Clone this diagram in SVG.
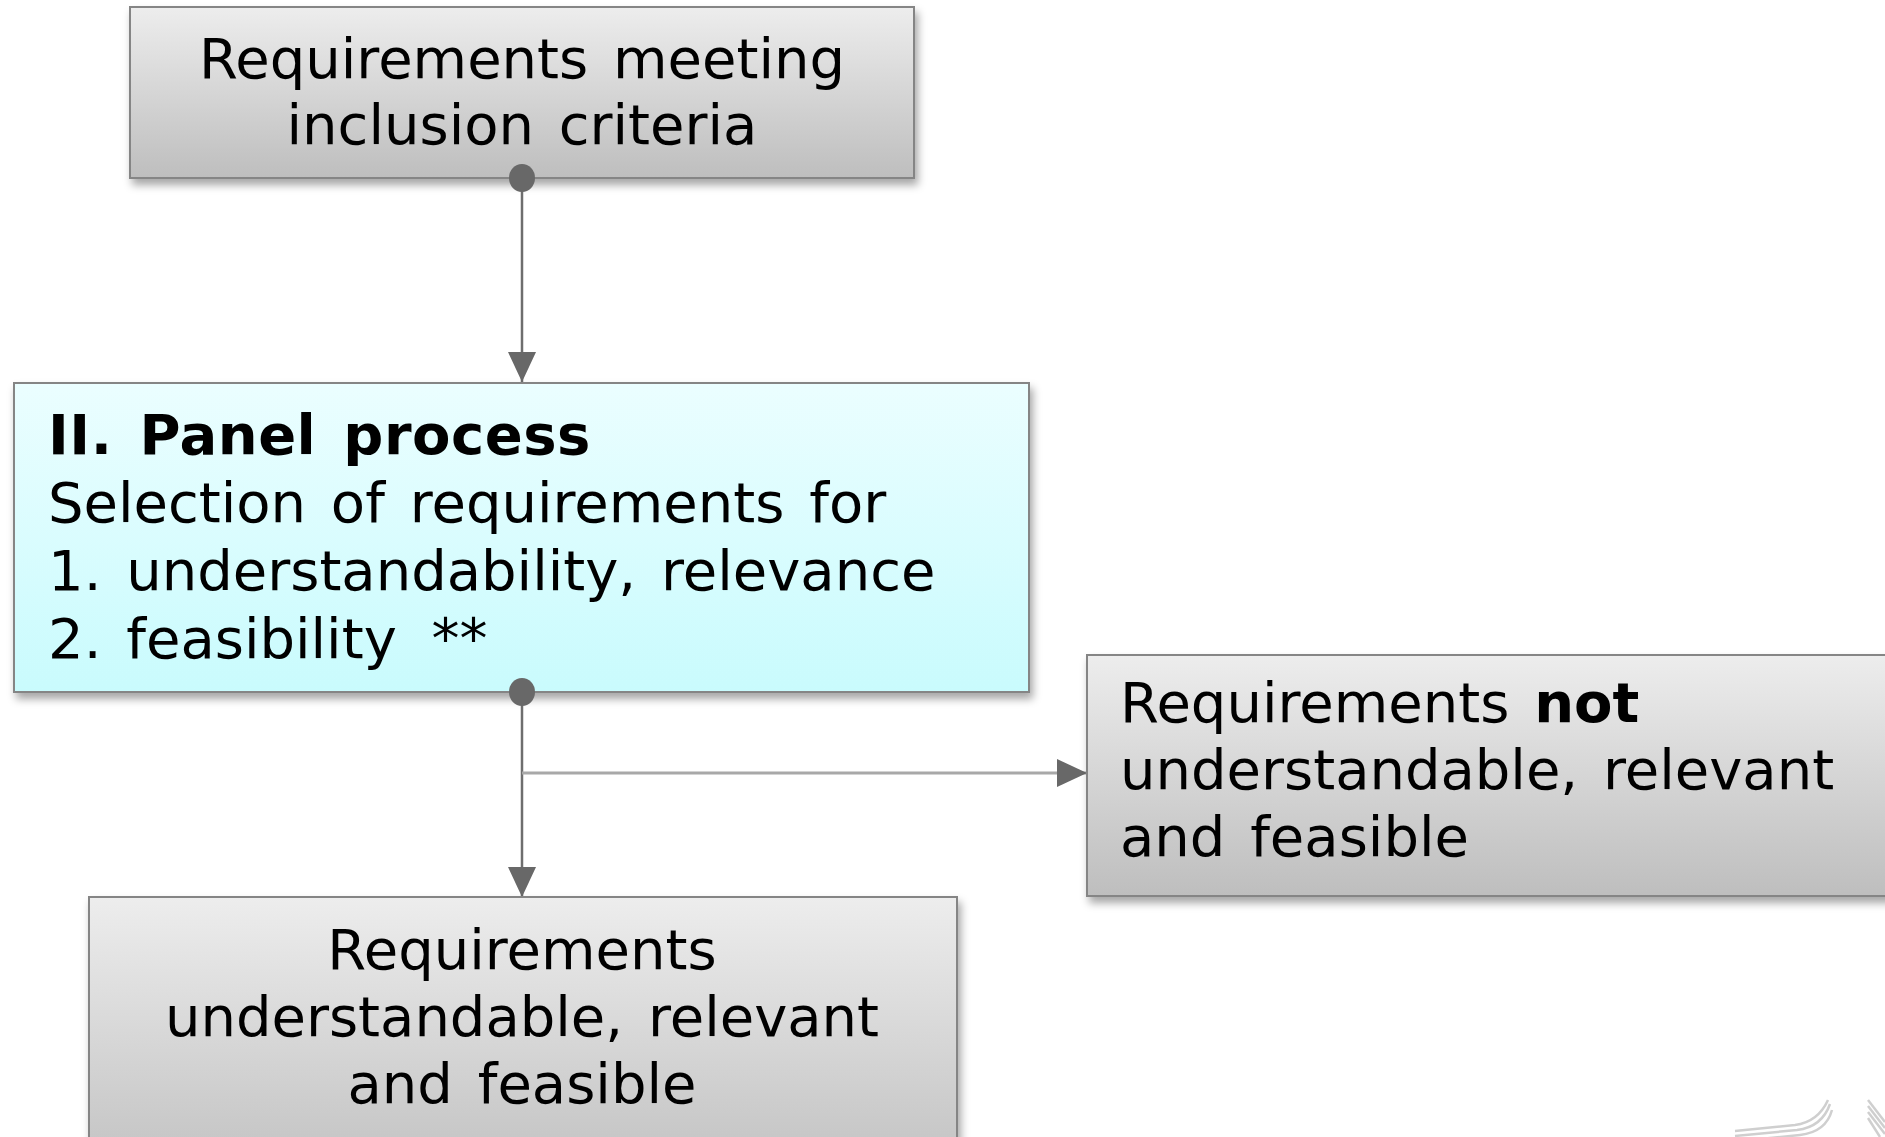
<svg xmlns="http://www.w3.org/2000/svg" width="1885" height="1137" viewBox="0 0 1885 1137">
<defs>
<linearGradient id="gGray" x1="0" y1="0" x2="0" y2="1">
<stop offset="0" stop-color="#ededed"/>
<stop offset="1" stop-color="#bebebe"/>
</linearGradient>
<linearGradient id="gCyan" x1="0" y1="0" x2="0" y2="1">
<stop offset="0" stop-color="#ebfeff"/>
<stop offset="1" stop-color="#c9fbfd"/>
</linearGradient>
<filter id="sh" x="-5%" y="-5%" width="115%" height="130%">
<feDropShadow dx="3" dy="6" stdDeviation="4" flood-color="#000" flood-opacity="0.35"/>
</filter>
<marker id="arr" markerWidth="30" markerHeight="28" refX="30" refY="14" orient="auto" markerUnits="userSpaceOnUse">
<path d="M0,0 L30,14 L0,28 Z" fill="#686868"/>
</marker>
</defs>
<style>
.box{stroke:#858585;stroke-width:2}
.t{font-family:"DejaVu Sans",Verdana,sans-serif;font-size:56px;fill:#000;word-spacing:7px}
.c{text-anchor:middle}
.b{font-weight:bold}
.bt{letter-spacing:0.5px}
.ln{stroke:#6e6e6e;stroke-width:2.5;fill:none}
.lh{stroke:#a8a8a8;stroke-width:3;fill:none}
.logo{stroke:#cfcfcf;stroke-width:2.5;fill:none}
</style>
<rect width="1885" height="1137" fill="#ffffff"/>
<g id="logo">
<path class="logo" d="M1735,1131 L1795,1125 Q1818,1122 1828,1100"/>
<path class="logo" d="M1735,1136 L1797,1130 Q1822,1127 1830,1104"/>
<path class="logo" d="M1760,1139 L1800,1135 Q1826,1132 1832,1110"/>
<path class="logo" d="M1868,1100 L1885,1122"/>
<path class="logo" d="M1868,1106 L1885,1128"/>
<path class="logo" d="M1868,1112 L1885,1134"/>
<path class="logo" d="M1868,1118 L1880,1137"/>
</g>
<g id="connectors">
<line class="ln" x1="522" y1="178" x2="522" y2="382" marker-end="url(#arr)"/>
<line class="ln" x1="522" y1="692" x2="522" y2="897" marker-end="url(#arr)"/>
<line class="lh" x1="522" y1="773" x2="1087" y2="773" marker-end="url(#arr)"/>
</g>
<g id="node-inclusion">
<rect class="box" x="130" y="7" width="784" height="171" fill="url(#gGray)" filter="url(#sh)"/>
<text class="t c" x="522" y="78">Requirements meeting</text>
<text class="t c" x="522" y="144">inclusion criteria</text>
</g>
<g id="node-panel">
<rect class="box" x="14" y="383" width="1015" height="309" fill="url(#gCyan)" filter="url(#sh)"/>
<text class="t b bt" x="48" y="454">II. Panel process</text>
<text class="t" x="48" y="522">Selection of requirements for</text>
<text class="t" x="48" y="590">1. understandability, relevance</text>
<text class="t" x="48" y="658">2. feasibility <tspan dx="10">**</tspan></text>
</g>
<g id="node-not">
<rect class="box" x="1087" y="655" width="900" height="241" fill="url(#gGray)" filter="url(#sh)"/>
<text class="t" x="1120" y="722">Requirements <tspan class="b">not</tspan></text>
<text class="t" x="1120" y="789">understandable, relevant</text>
<text class="t" x="1120" y="856">and feasible</text>
</g>
<g id="node-yes">
<rect class="box" x="89" y="897" width="868" height="300" fill="url(#gGray)" filter="url(#sh)"/>
<text class="t c" x="522" y="969">Requirements</text>
<text class="t c" x="522" y="1036">understandable, relevant</text>
<text class="t c" x="522" y="1103">and feasible</text>
</g>
<g id="dots">
<ellipse cx="522" cy="178" rx="13" ry="14" fill="#686868"/>
<ellipse cx="522" cy="692" rx="13" ry="14" fill="#686868"/>
</g>
</svg>
